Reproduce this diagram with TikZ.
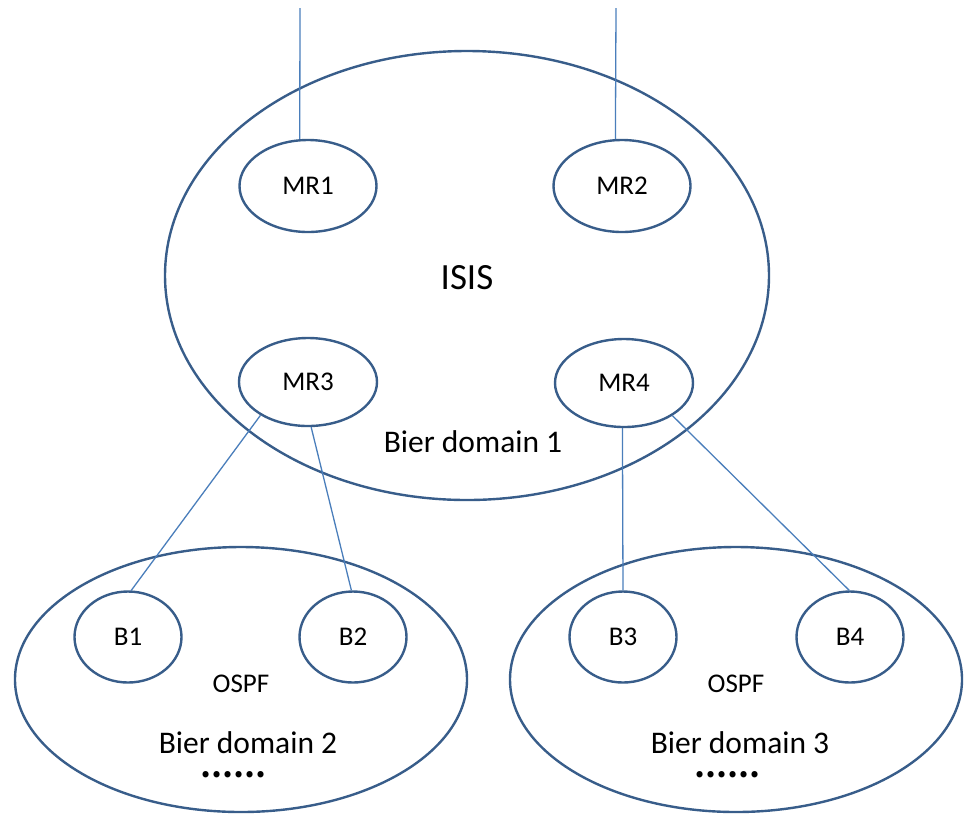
\documentclass[tikz,border=0pt]{standalone}
\usepackage{fontspec}
\setmainfont{Carlito}
\newfontfamily\cjkdots{Noto Sans CJK SC}
\usetikzlibrary{shapes.geometric}
\definecolor{shapeblue}{RGB}{56,93,138}
\definecolor{linkblue}{RGB}{74,126,187}
\begin{document}
\begin{tikzpicture}[x=1pt,y=-1pt,
  domainell/.style={draw=shapeblue,line width=2.4pt,ellipse,inner sep=0pt},
  routerell/.style={draw=shapeblue,line width=2.4pt,ellipse,inner sep=0pt,
     font=\fontsize{27}{31}\selectfont},
  link/.style={draw=linkblue,line width=1.3pt},
  lbl/.style={inner sep=0pt,font=\fontsize{31.5}{36}\selectfont},
  small/.style={inner sep=0pt,font=\fontsize{27}{31}\selectfont},
  dotsty/.style={inner sep=0pt,font=\cjkdots\bfseries\fontsize{29}{30}\selectfont}]
\useasboundingbox (0,0) rectangle (968,815);
% domains
\node[domainell,minimum width=604pt,minimum height=449pt] (d1) at (467,275.5) {};
\node[domainell,minimum width=452pt,minimum height=265pt] (d2) at (241,679.5) {};
\node[domainell,minimum width=452pt,minimum height=265pt] (d3) at (736,679.5) {};
% routers
\node[routerell,minimum width=137pt,minimum height=92pt] (mr1) at (308,186) {MR1};
\node[routerell,minimum width=137pt,minimum height=92pt] (mr2) at (622,186) {MR2};
\node[routerell,minimum width=138pt,minimum height=88pt] (mr3) at (308,382) {MR3};
\node[routerell,minimum width=138pt,minimum height=88pt] (mr4) at (624,383) {MR4};
\node[routerell,minimum width=107pt,minimum height=91pt] (b1) at (128,637) {B1};
\node[routerell,minimum width=107pt,minimum height=91pt] (b2) at (353,637) {B2};
\node[routerell,minimum width=107pt,minimum height=91pt] (b3) at (623,637) {B3};
\node[routerell,minimum width=107pt,minimum height=91pt] (b4) at (850,637) {B4};
% texts
\node[inner sep=0pt,font=\fontsize{37}{42}\selectfont] (isis) at (467,278) {ISIS};
\node[lbl] (bd1) at (473,442) {Bier domain 1};
\node[small] (ospf2) at (241,684) {OSPF};
\node[lbl] (bd2) at (248,743) {Bier domain 2};
\node[dotsty] (dots2) at (233.5,777) {\smash{……}};
\node[small] (ospf3) at (736,684) {OSPF};
\node[lbl] (bd3) at (740,743) {Bier domain 3};
\node[dotsty] (dots3) at (727,777) {\smash{……}};
% connectors
\coordinate (t1) at (300,8);
\coordinate (t2) at (616,8);
\draw[link] (t1) -- (mr1.100);
\draw[link] (t2) -- (mr2.98);
\draw[link] (mr3.215) -- (b1.86);
\draw[link] (mr3.274) -- (b2.92);
\draw[link] (mr4.268) -- (b3.90);
\draw[link] (mr4.326) -- (b4.91);
\end{tikzpicture}
\end{document}
